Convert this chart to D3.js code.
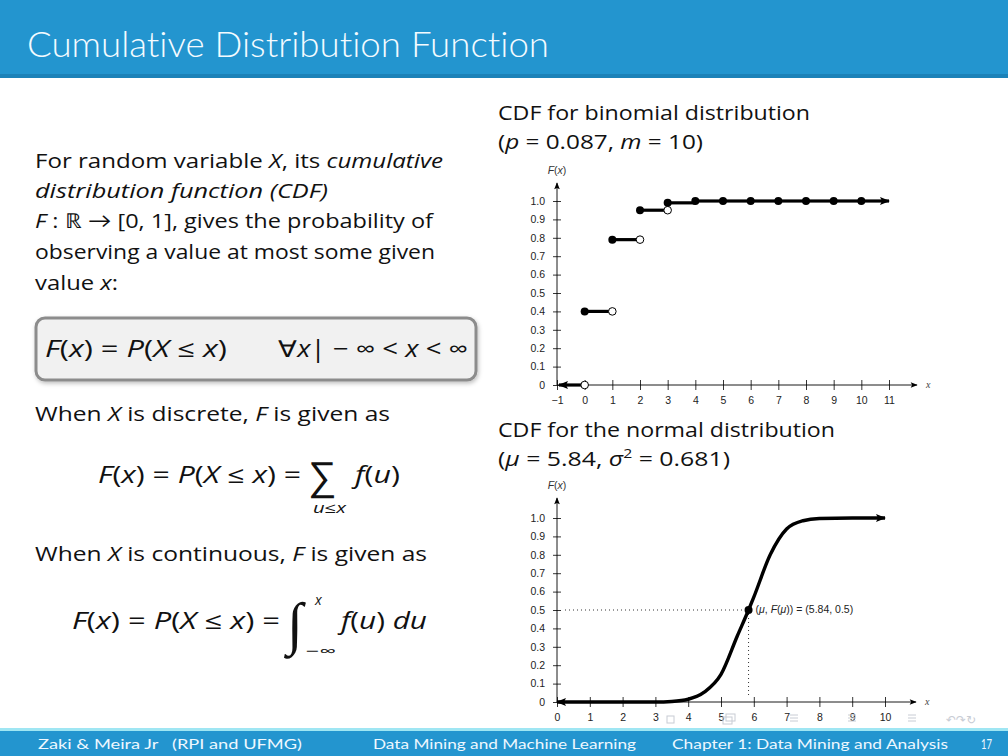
<!DOCTYPE html>
<html>
<head>
<meta charset="utf-8">
<script src="https://cdn.jsdelivr.net/npm/d3@7"></script>
<style>
  html, body { margin: 0; padding: 0; background: #fff; }
  svg { display: block; font-variant-ligatures: none; }
  .body { font-family: "Open Sans", Lato, sans-serif; fill: #111; }
  .it { font-style: italic; }
  .tick text { font-family: "Liberation Sans", Arial, sans-serif; font-size: 10.5px; fill: #222; }
</style>
</head>
<body>
<svg id="slide" width="1008" height="756"></svg>
<script>
// --- dados ---
const binomX = [0, 1, 2, 3, 4, 5, 6, 7, 8, 9, 10];
const binomF = [0.40, 0.79, 0.95, 0.99, 1.0, 1.0, 1.0, 1.0, 1.0, 1.0, 1.0];
const binomXTicks = [-1, 0, 1, 2, 3, 4, 5, 6, 7, 8, 9, 10, 11];

const normX = [0, 1, 2, 3, 3.5, 4, 4.5, 5, 5.5, 5.84, 6, 6.5, 7, 7.5, 8, 9, 10];
const normF = [0, 0, 0, 0, 0.003, 0.015, 0.055, 0.15, 0.36, 0.5, 0.57, 0.8, 0.94, 0.985, 0.997, 1.0, 1.0];
const normXTicks = [0, 1, 2, 3, 4, 5, 6, 7, 8, 9, 10];
const normMu = [5.84, 0.5];

const yTicks = [0, 0.1, 0.2, 0.3, 0.4, 0.5, 0.6, 0.7, 0.8, 0.9, 1.0];

const svg = d3.select('#slide');

// marcadores de seta
const defs = svg.append('defs');
function marker(id, w, h) {
  defs.append('marker').attr('id', id)
    .attr('viewBox', '0 0 10 10').attr('refX', 9).attr('refY', 5)
    .attr('markerWidth', w).attr('markerHeight', h)
    .attr('markerUnits', 'userSpaceOnUse')
    .attr('orient', 'auto-start-reverse')
    .append('path').attr('d', 'M0,1 L10,5 L0,9 L2,5 Z').attr('fill', '#000');
}
marker('arrThin', 9, 7);
marker('arrThick', 12, 10);
const shadow = defs.append('filter').attr('id', 'shadow').attr('x', -0.1).attr('y', -0.2).attr('width', 1.2).attr('height', 1.5);
shadow.append('feDropShadow').attr('dx', 1).attr('dy', 2).attr('stdDeviation', 2).attr('flood-opacity', 0.25);

// --- barra de título ---
svg.append('rect').attr('x', 0).attr('y', 0).attr('width', 1008).attr('height', 78).attr('fill', '#1c82b8');
svg.append('rect').attr('x', 0).attr('y', 0).attr('width', 1008).attr('height', 74).attr('fill', '#2395cf');
svg.append('text').attr('x', 27).attr('y', 57)
  .attr('font-family', 'Lato, "Open Sans", sans-serif').attr('font-weight', 300)
  .attr('font-size', 36).attr('fill', '#f4fbff')
  .attr('textLength', 522).attr('lengthAdjust', 'spacingAndGlyphs')
  .text('Cumulative Distribution Function');

// --- texto à esquerda ---
const body = svg.append('g').attr('class', 'body').attr('font-size', 20.5);
// parts: [texto, itálico, tamanho, dy]; len = largura medida na referência
function line(x, y, parts, size, len) {
  const t = body.append('text').attr('x', x).attr('y', y);
  if (size) t.attr('font-size', size);
  parts.forEach(p => {
    const s = t.append('tspan').text(p[0]);
    if (p[1]) s.attr('class', 'it');
    if (p[2]) s.attr('font-size', p[2]);
    if (p[3] != null) s.attr('dy', p[3]);
  });
  if (len) t.attr('textLength', len).attr('lengthAdjust', 'spacingAndGlyphs');
  return t;
}
line(35, 168, [['For random variable '], ['X', 1], [', its '], ['cumulative', 1]], null, 408);
line(35, 198, [['distribution function (CDF)', 1]], null, 293);
line(35, 228, [['F', 1], [' : ℝ → [0, 1], gives the probability of']], null, 398);
line(35, 259, [['observing a value at most some given']], null, 400);
line(35, 290, [['value '], ['x', 1], [':']], null, 83);

body.append('rect').attr('x', 36).attr('y', 318).attr('width', 440).attr('height', 62).attr('rx', 9)
  .attr('fill', '#f1f1f1').attr('stroke', '#8c8c8c').attr('stroke-width', 3).attr('filter', 'url(#shadow)');
line(45, 357, [['F', 1], ['('], ['x', 1], [') = '], ['P', 1], ['('], ['X', 1], [' ≤ '], ['x', 1], [')']], 23, 182);
line(278, 357, [['∀'], ['x', 1], ['| − ∞ < '], ['x', 1], [' < ∞']], 23, 190);

line(35, 421, [['When '], ['X', 1], [' is discrete, '], ['F', 1], [' is given as']], null, 355);
line(98, 483, [['F', 1], ['('], ['x', 1], [') = '], ['P', 1], ['('], ['X', 1], [' ≤ '], ['x', 1], [') =']], 23, 203);
body.append('text').attr('x', 308).attr('y', 490).attr('font-size', 40)
  .attr('font-family', '"DejaVu Sans", sans-serif').attr('font-weight', 300).text('∑');
line(313, 513, [['u', 1], ['≤'], ['x', 1]], 14, 33);
line(355, 483, [['f', 1], ['('], ['u', 1], [')']], 23, 45);

line(35, 561, [['When '], ['X', 1], [' is continuous, '], ['F', 1], [' is given as']], null, 392);
line(72, 629, [['F', 1], ['('], ['x', 1], [') = '], ['P', 1], ['('], ['X', 1], [' ≤ '], ['x', 1], [') =']], 23, 208);
body.append('text').attr('x', 287).attr('y', 643).attr('font-size', 58)
  .attr('font-family', '"Liberation Serif", serif').attr('font-style', 'italic').text('∫');
line(315, 605, [['x', 1]], 14);
line(306, 656, [['−∞']], 14, 30);
line(341, 629, [['f', 1], ['('], ['u', 1], [') '], ['du', 1]], 23, 86);

// --- títulos dos gráficos ---
line(498, 120, [['CDF for binomial distribution']], null, 312);
line(498, 149, [['('], ['p', 1], [' = 0.087, '], ['m', 1], [' = 10)']], null, 205);
line(498, 437, [['CDF for the normal distribution']], null, 337);
line(498, 466, [['('], ['μ', 1], [' = 5.84, '], ['σ', 1], ['2', 0, 13, -8], [' = 0.681)', 0, null, 8]], null, 232);

// --- eixos ---
function drawAxes(g, x, y, xTicks, xEndPx, yTopPx) {
  const fmtX = d => d < 0 ? '−' + Math.abs(d) : String(d);
  const fmtY = d => d === 0 ? '0' : d3.format('.1f')(d);
  const y0 = y(0), x0 = x.range()[0];

  const ax = g.append('g').attr('transform', `translate(0,${y0})`)
    .call(d3.axisBottom(x).tickValues(xTicks).tickFormat(fmtX).tickSize(5).tickPadding(7));
  ax.select('.domain').remove();
  ax.selectAll('.tick line').attr('y1', -5).attr('y2', 5).attr('stroke', '#000').attr('stroke-width', 0.8);

  const ay = g.append('g').attr('transform', `translate(${x0},0)`)
    .call(d3.axisLeft(y).tickValues(yTicks).tickFormat(fmtY).tickSize(4).tickPadding(8));
  ay.select('.domain').remove();
  ay.selectAll('.tick line').attr('x1', -4).attr('x2', 4).attr('stroke', '#000').attr('stroke-width', 0.8);

  g.append('line').attr('x1', x0).attr('x2', xEndPx).attr('y1', y0).attr('y2', y0)
    .attr('stroke', '#000').attr('stroke-width', 0.9).attr('marker-end', 'url(#arrThin)');
  g.append('line').attr('x1', x0).attr('x2', x0).attr('y1', y0).attr('y2', yTopPx)
    .attr('stroke', '#000').attr('stroke-width', 0.9).attr('marker-end', 'url(#arrThin)');
  g.append('text').attr('x', xEndPx + 9).attr('y', y0 + 3)
    .attr('font-family', '"Liberation Serif", serif').attr('font-style', 'italic')
    .attr('font-size', 10).attr('fill', '#444').text('x');
  const lab = g.append('text').attr('x', x0).attr('y', yTopPx - 9).attr('text-anchor', 'middle')
    .attr('font-family', '"Liberation Sans", sans-serif').attr('font-size', 10.5).attr('fill', '#333');
  lab.append('tspan').attr('font-style', 'italic').text('F');
  lab.append('tspan').text('(');
  lab.append('tspan').attr('font-style', 'italic').text('x');
  lab.append('tspan').text(')');
}

// --- gráfico 1: binomial ---
const x1 = d3.scaleLinear().domain([-1, 11]).range([557, 889]);
const y1 = d3.scaleLinear().domain([0, 1]).range([385, 201]);
const g1 = svg.append('g');
drawAxes(g1, x1, y1, binomXTicks, 917, 183);

// seta à esquerda em F = 0
g1.append('line').attr('x1', x1(0)).attr('x2', x1(-1) + 2).attr('y1', y1(0)).attr('y2', y1(0))
  .attr('stroke', '#000').attr('stroke-width', 3.2).attr('marker-end', 'url(#arrThick)');
const steps = binomX.map((d, i) => ({ x: d, next: d + 1, f: binomF[i] }));
g1.selectAll('line.step').data(steps).join('line').attr('class', 'step')
  .attr('x1', d => x1(d.x)).attr('x2', d => x1(d.next))
  .attr('y1', d => y1(d.f)).attr('y2', d => y1(d.f))
  .attr('stroke', '#000').attr('stroke-width', 3.2)
  .attr('marker-end', (d, i) => i === steps.length - 1 ? 'url(#arrThick)' : null);
// círculos abertos (limite pela esquerda)
const openPts = [{ x: 0, f: 0 }].concat(steps.slice(0, 3).map(d => ({ x: d.next, f: d.f })));
g1.selectAll('circle.open').data(openPts).join('circle').attr('class', 'open')
  .attr('cx', d => x1(d.x)).attr('cy', d => y1(d.f)).attr('r', 3.8)
  .attr('fill', '#fff').attr('stroke', '#000').attr('stroke-width', 1);
g1.selectAll('circle.fill').data(steps).join('circle').attr('class', 'fill')
  .attr('cx', d => x1(d.x)).attr('cy', d => y1(d.f)).attr('r', 4).attr('fill', '#000');

// --- gráfico 2: normal ---
const x2 = d3.scaleLinear().domain([0, 10]).range([557, 885]);
const y2 = d3.scaleLinear().domain([0, 1]).range([702, 518]);
const g2 = svg.append('g');
drawAxes(g2, x2, y2, normXTicks, 916, 498);

g2.append('line').attr('x1', x2(0) + 8).attr('x2', x2(normMu[0])).attr('y1', y2(normMu[1])).attr('y2', y2(normMu[1]))
  .attr('stroke', '#000').attr('stroke-width', 0.8).attr('stroke-dasharray', '1,3');
g2.append('line').attr('x1', x2(normMu[0])).attr('x2', x2(normMu[0])).attr('y1', y2(normMu[1])).attr('y2', y2(0) - 4)
  .attr('stroke', '#000').attr('stroke-width', 0.8).attr('stroke-dasharray', '1,3');

const normPts = normX.map((d, i) => [d, normF[i]]);
g2.append('path').datum(normPts)
  .attr('d', d3.line().x(d => x2(d[0])).y(d => y2(d[1])).curve(d3.curveMonotoneX))
  .attr('fill', 'none').attr('stroke', '#000').attr('stroke-width', 3.4)
  .attr('marker-start', 'url(#arrThick)').attr('marker-end', 'url(#arrThick)');
g2.append('circle').attr('cx', x2(normMu[0])).attr('cy', y2(normMu[1])).attr('r', 4).attr('fill', '#000');
const ml = g2.append('text').attr('x', x2(normMu[0]) + 7).attr('y', y2(normMu[1]) + 3)
  .attr('font-family', '"Liberation Sans", sans-serif').attr('font-size', 10.5).attr('fill', '#222');
ml.append('tspan').text('(');
ml.append('tspan').attr('font-style', 'italic').text('μ');
ml.append('tspan').text(', ');
ml.append('tspan').attr('font-style', 'italic').text('F');
ml.append('tspan').text('(');
ml.append('tspan').attr('font-style', 'italic').text('μ');
ml.append('tspan').text(')) = (5.84, 0.5)');

// símbolos de navegação (apagados)
const nav = svg.append('g').attr('fill', 'none').attr('stroke', '#c8ccd4').attr('stroke-width', 1);
nav.append('rect').attr('x', 667).attr('y', 716).attr('width', 7).attr('height', 7);
nav.append('rect').attr('x', 723).attr('y', 717).attr('width', 9).attr('height', 7);
nav.append('rect').attr('x', 726).attr('y', 714).attr('width', 9).attr('height', 7);
[790, 848, 908].forEach(x => {
  [715, 718, 721].forEach(y => nav.append('line').attr('x1', x).attr('x2', x + 8).attr('y1', y).attr('y2', y));
});
svg.append('text').attr('x', 946).attr('y', 724).attr('font-size', 12).attr('fill', '#c8ccd4')
  .attr('font-family', '"DejaVu Sans", sans-serif').text('↶↷↻');

// --- rodapé ---
svg.append('rect').attr('x', 0).attr('y', 728).attr('width', 1008).attr('height', 28).attr('fill', '#9fe6f3');
svg.append('rect').attr('x', 0).attr('y', 731).attr('width', 1008).attr('height', 25).attr('fill', '#2395cf');
const foot = svg.append('g').attr('font-family', 'Lato, "Open Sans", sans-serif').attr('font-size', 13).attr('fill', '#eef8ff');
const footTexts = [
  ['Zaki & Meira Jr   (RPI and UFMG)', 38, 264],
  ['Data Mining and Machine Learning', 373, 263],
  ['Chapter 1: Data Mining and Analysis', 672, 276],
  ['17', 981, 11]
];
footTexts.forEach(d => {
  foot.append('text').attr('x', d[1]).attr('y', 749).attr('textLength', d[2])
    .attr('lengthAdjust', 'spacingAndGlyphs').attr('xml:space', 'preserve').text(d[0]);
});
</script>
</body>
</html>
